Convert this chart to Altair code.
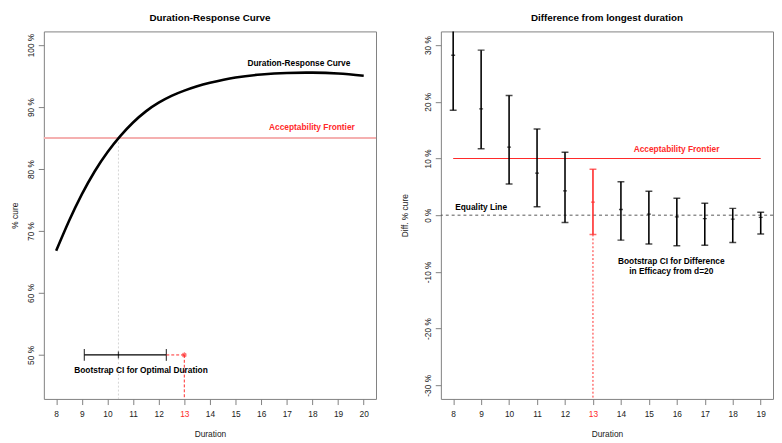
import altair as alt
import pandas as pd

FONT = "Liberation Sans"

# ---------------- Left panel data ----------------
curve_duration = [8, 8.5, 9, 9.5, 10, 10.5, 11, 11.5, 12, 12.5, 13, 13.5, 14, 15, 16, 17, 18, 19, 20]
curve_cure = [66.8, 71.6, 75.9, 79.6, 82.7, 85.3, 87.5, 89.3, 90.7, 91.8, 92.65, 93.35, 93.9, 94.75, 95.25, 95.5, 95.55, 95.4, 95.05]
frontier_left = 85
opt_low, opt_mid, opt_high = 9.1, 10.43, 12.3
chosen_duration = 13
ci_level = 50

left_x_ticks = list(range(8, 21))
left_y_ticks = [50, 60, 70, 80, 90, 100]
left_x_domain = [7.52, 20.48]
left_y_domain = [42.9, 102.2]

# ---------------- Right panel data ----------------
diff_duration = list(range(8, 20))
diff_mid = [28.2, 18.75, 12.0, 7.4, 4.3, 2.3, 1.0, 0.2, -0.3, -0.6, -0.7, -0.4]
diff_low = [18.5, 11.7, 5.5, 1.5, -1.3, -3.4, -4.4, -5.1, -5.4, -5.3, -4.8, -3.3]
diff_high = [38.0, 29.1, 21.1, 15.2, 11.1, 8.1, 5.9, 4.2, 3.0, 2.1, 1.2, 0.5]
frontier_right = 10
equality_value = 0
frontier_right_span = [8, 19]

right_x_ticks = list(range(8, 20))
right_y_ticks = [-30, -20, -10, 0, 10, 20, 30]
right_x_domain = [7.56, 19.44]
right_y_domain = [-32.4, 32.4]

W, H = 338, 374
RED = "#ff2a2a"
ASTERISK = "M-1,0L1,0M0,-1L0,1M-0.7,-0.7L0.7,0.7M-0.7,0.7L0.7,-0.7"

red13 = {"expr": "datum.value == 13 ? '#ff2a2a' : '#222222'"}


def make_xy(xdomain, ydomain, xticks, yticks, ytitle, ytitle_pad):
    xs = alt.Scale(domain=xdomain, nice=False, zero=False)
    ys = alt.Scale(domain=ydomain, nice=False, zero=False)
    xa = alt.Axis(values=xticks, title="Duration", labelColor=red13,
                  labelPadding=5.5, titlePadding=12, labelFlush=False)
    ya = alt.Axis(values=yticks, title=ytitle, labelExpr="datum.value + ' %'",
                  labelAngle=-90, labelAlign="center", labelBaseline="bottom",
                  labelPadding=3, minExtent=20, maxExtent=20,
                  titlePadding=ytitle_pad, labelFlush=False)

    def X(f):
        return alt.X(f, type="quantitative", scale=xs, axis=xa)

    def Y(f):
        return alt.Y(f, type="quantitative", scale=ys, axis=ya)
    return X, Y


# ================= Left chart =================
XL, YL = make_xy(left_x_domain, left_y_domain, left_x_ticks, left_y_ticks, "% cure", 4.5)

curve_df = pd.DataFrame({"d": curve_duration, "c": curve_cure})
l_frontier = alt.Chart(pd.DataFrame({"y": [frontier_left]})).mark_rule(
    color="#f5b0b0", strokeWidth=2).encode(y=YL("y"))
l_vdot = alt.Chart(pd.DataFrame({"x": [opt_mid], "y": [frontier_left], "y2": [left_y_domain[0]]})).mark_rule(
    color="#d4d4d4", strokeDash=[2, 2], strokeWidth=1).encode(x=XL("x"), y=YL("y"), y2="y2")
l_curve = alt.Chart(curve_df).mark_line(color="black", strokeWidth=2.6, interpolate="natural").encode(
    x=XL("d"), y=YL("c"))
l_ci = alt.Chart(pd.DataFrame({"x": [opt_low], "x2": [opt_high], "y": [ci_level]})).mark_rule(
    color="black", strokeWidth=1.3).encode(x=XL("x"), x2="x2", y=YL("y"))
l_caps = alt.Chart(pd.DataFrame({"x": [opt_low, opt_high], "y": [ci_level, ci_level]})).mark_tick(
    orient="vertical", size=12, thickness=1.3, color="black").encode(x=XL("x"), y=YL("y"))
l_mid = alt.Chart(pd.DataFrame({"x": [opt_mid], "y": [ci_level]})).mark_tick(
    orient="vertical", size=7, thickness=1.3, color="black").encode(x=XL("x"), y=YL("y"))
l_red_h = alt.Chart(pd.DataFrame({"x": [opt_high], "x2": [chosen_duration], "y": [ci_level]})).mark_rule(
    color=RED, strokeDash=[3, 2], strokeWidth=1).encode(x=XL("x"), x2="x2", y=YL("y"))
l_red_v = alt.Chart(pd.DataFrame({"x": [chosen_duration], "y": [ci_level], "y2": [left_y_domain[0]]})).mark_rule(
    color=RED, strokeDash=[3, 2], strokeWidth=1).encode(x=XL("x"), y=YL("y"), y2="y2")
l_star = alt.Chart(pd.DataFrame({"x": [chosen_duration], "y": [ci_level]})).mark_point(
    shape=ASTERISK, size=28, color=RED, filled=False, strokeWidth=1.1).encode(x=XL("x"), y=YL("y"))

left_labels = pd.DataFrame({
    "x": [17.47, 17.98, 11.31],
    "y": [97.1, 86.7, 47.5],
    "t": ["Duration-Response Curve", "Acceptability Frontier", "Bootstrap CI for Optimal Duration"],
    "c": ["black", RED, "black"],
})
l_text = alt.Chart(left_labels).mark_text(
    font=FONT, fontSize=8.5, fontWeight="bold", align="center", baseline="middle").encode(
    x=XL("x"), y=YL("y"), text="t:N", color=alt.Color("c:N", scale=None))

left = alt.layer(l_frontier, l_vdot, l_curve, l_ci, l_caps, l_mid, l_red_h, l_red_v, l_star, l_text).properties(
    width=W, height=H, title="Duration-Response Curve")

# ================= Right chart =================
XR, YR = make_xy(right_x_domain, right_y_domain, right_x_ticks, right_y_ticks, "Diff. % cure", 11.7)

bars_df = pd.DataFrame({
    "d": diff_duration, "mid": diff_mid, "low": diff_low, "high": diff_high,
    "col": [RED if d == chosen_duration else "black" for d in diff_duration],
})
low13 = diff_low[diff_duration.index(chosen_duration)]

r_equal = alt.Chart(pd.DataFrame({"y": [equality_value]})).mark_rule(
    color="#555555", strokeDash=[3, 3], strokeWidth=1).encode(y=YR("y"))
r_frontier = alt.Chart(pd.DataFrame({"x": [frontier_right_span[0]], "x2": [frontier_right_span[1]],
                                     "y": [frontier_right]})).mark_rule(
    color=RED, strokeWidth=1.2).encode(x=XR("x"), x2="x2", y=YR("y"))
r_red_v = alt.Chart(pd.DataFrame({"x": [chosen_duration], "y": [low13], "y2": [right_y_domain[0]]})).mark_rule(
    color=RED, strokeDash=[2, 2], strokeWidth=1).encode(x=XR("x"), y=YR("y"), y2="y2")
r_bars = alt.Chart(bars_df).mark_rule(strokeWidth=1.6, clip=True).encode(
    x=XR("d"), y=YR("low"), y2="high", color=alt.Color("col:N", scale=None))
r_cap_low = alt.Chart(bars_df).mark_tick(orient="horizontal", size=7, thickness=1.5, clip=True).encode(
    x=XR("d"), y=YR("low"), color=alt.Color("col:N", scale=None))
r_cap_high = alt.Chart(bars_df).mark_tick(orient="horizontal", size=7, thickness=1.5, clip=True).encode(
    x=XR("d"), y=YR("high"), color=alt.Color("col:N", scale=None))
r_mid = alt.Chart(bars_df).mark_tick(orient="horizontal", size=4, thickness=1.3, clip=True).encode(
    x=XR("d"), y=YR("mid"), color=alt.Color("col:N", scale=None))

right_labels = pd.DataFrame({
    "x": [15.99, 9.0, 15.8],
    "y": [11.6, 1.5, -8.13],
    "t": ["Acceptability Frontier", "Equality Line", "Bootstrap CI for Difference\nin Efficacy from d=20"],
    "c": [RED, "black", "black"],
})
r_text = alt.Chart(right_labels).mark_text(
    font=FONT, fontSize=8.5, fontWeight="bold", align="center", baseline="middle",
    lineBreak="\n", lineHeight=10).encode(
    x=XR("x"), y=YR("y"), text="t:N", color=alt.Color("c:N", scale=None))

right = alt.layer(r_equal, r_frontier, r_red_v, r_bars, r_cap_low, r_cap_high, r_mid, r_text).properties(
    width=W, height=H, title="Difference from longest duration")

chart = alt.hconcat(left, right, spacing=22).properties(
    padding={"left": 2.5, "top": 0, "right": 0, "bottom": 0}
).configure_view(
    stroke="#808080", strokeWidth=1
).configure_axis(
    labelFont=FONT, titleFont=FONT, labelFontSize=8.5, titleFontSize=8.5,
    titleFontWeight="normal", labelColor="#222222", titleColor="#222222",
    tickColor="#808080", tickSize=5.7, domain=False, grid=False
).configure_title(
    font=FONT, fontSize=10, fontWeight="bold", offset=9, anchor="middle", color="black"
)

chart.save("out.html", embed_options={"renderer": "svg", "actions": False})
